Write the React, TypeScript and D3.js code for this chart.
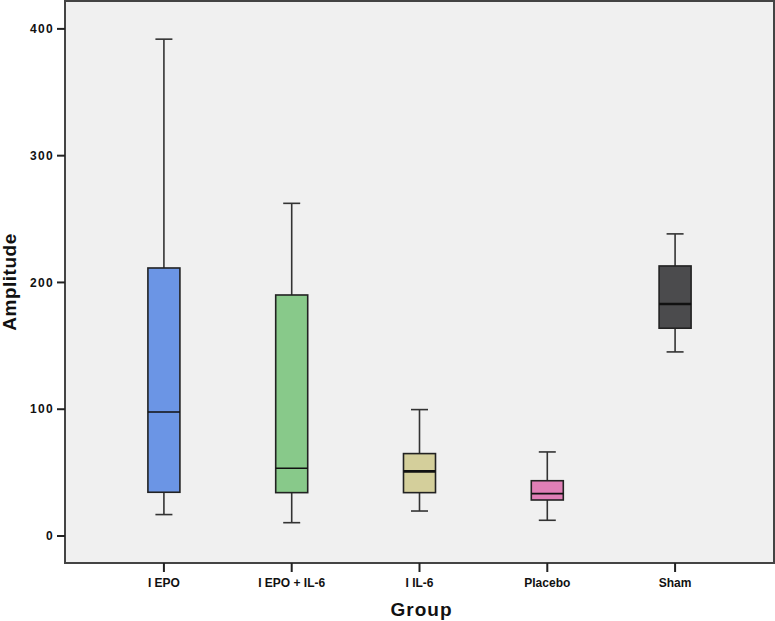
import React from "react";
import * as d3 from "d3";

const groups = ["I EPO", "I EPO + IL-6", "I IL-6", "Placebo", "Sham"];
const whiskerLow = [16.9, 10.5, 19.7, 12.4, 145.2];
const q1 = [34.5, 34.2, 34.2, 28.4, 163.9];
const medians = [97.8, 53.4, 51.0, 33.4, 183.0];
const q3 = [211.4, 190.1, 65.0, 43.6, 213.0];
const whiskerHigh = [391.9, 262.4, 99.7, 66.3, 238.3];
const fills = ["#6b95e5", "#88c98a", "#d4cf9b", "#e07fb6", "#4b4b4d"];
const medianWidths = [1.6, 1.6, 2.6, 1.6, 2.6];
const yTicks = [0, 100, 200, 300, 400];

const W = 775;
const H = 621;
const plot = { left: 65, right: 774, top: 1, bottom: 563 };

export default function App() {
  const y = d3.scaleLinear().domain([-21.3, 422]).range([plot.bottom, plot.top]);
  const x = d3
    .scalePoint<string>()
    .domain(groups)
    .range([plot.left, plot.right])
    .padding(0.774);
  const boxW = 32;
  const capW = 17;
  const font = "'Liberation Sans', Arial, Helvetica, sans-serif";

  return (
    <svg
      width={W}
      height={H}
      style={{ position: "absolute", left: 0, top: 0, background: "#ffffff" }}
      fontFamily={font}
    >
      <rect
        x={plot.left}
        y={plot.top}
        width={plot.right - plot.left}
        height={plot.bottom - plot.top}
        fill="#f0f0f0"
        stroke="#444"
        strokeWidth={2}
      />
      {yTicks.map((t) => (
        <g key={t}>
          <line x1={plot.left - 8} x2={plot.left} y1={y(t)} y2={y(t)} stroke="#222" strokeWidth={2} />
          <text
            x={plot.left - 11}
            y={y(t)}
            dy="0.35em"
            textAnchor="end"
            fontSize={12}
            fontWeight="bold"
            letterSpacing={1.3}
            fill="#111"
          >
            {t}
          </text>
        </g>
      ))}
      {groups.map((g, i) => {
        const cx = x(g) as number;
        return (
          <g key={g}>
            <line x1={cx} x2={cx} y1={plot.bottom} y2={plot.bottom + 9} stroke="#222" strokeWidth={2} />
            <text x={cx} y={587} textAnchor="middle" fontSize={12} fontWeight="bold" fill="#111">
              {g}
            </text>
            <line x1={cx} x2={cx} y1={y(whiskerHigh[i])} y2={y(q3[i])} stroke="#333" strokeWidth={1.6} />
            <line x1={cx} x2={cx} y1={y(q1[i])} y2={y(whiskerLow[i])} stroke="#333" strokeWidth={1.6} />
            <line
              x1={cx - capW / 2}
              x2={cx + capW / 2}
              y1={y(whiskerHigh[i])}
              y2={y(whiskerHigh[i])}
              stroke="#333"
              strokeWidth={1.6}
            />
            <line
              x1={cx - capW / 2}
              x2={cx + capW / 2}
              y1={y(whiskerLow[i])}
              y2={y(whiskerLow[i])}
              stroke="#333"
              strokeWidth={1.6}
            />
            <rect
              x={cx - boxW / 2}
              y={y(q3[i])}
              width={boxW}
              height={y(q1[i]) - y(q3[i])}
              fill={fills[i]}
              stroke="#222"
              strokeWidth={1.6}
            />
            <line
              x1={cx - boxW / 2}
              x2={cx + boxW / 2}
              y1={y(medians[i])}
              y2={y(medians[i])}
              stroke="#111"
              strokeWidth={medianWidths[i]}
            />
          </g>
        );
      })}
      <text
        x={(plot.left + plot.right) / 2 + 2}
        y={616}
        textAnchor="middle"
        fontSize={19}
        fontWeight="bold"
        letterSpacing={1}
        fill="#111"
      >
        Group
      </text>
      <text
        transform={`translate(16, ${(plot.top + plot.bottom) / 2}) rotate(-90)`}
        textAnchor="middle"
        fontSize={19}
        fontWeight="bold"
        letterSpacing={0.5}
        fill="#111"
      >
        Amplitude
      </text>
    </svg>
  );
}
